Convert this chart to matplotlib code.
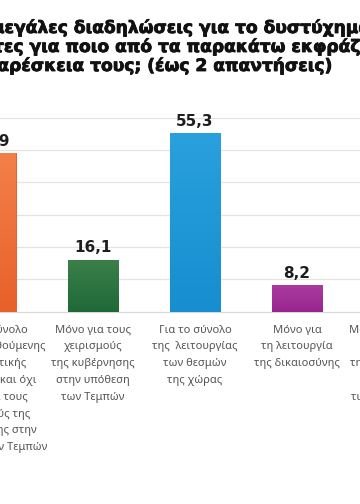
import matplotlib
matplotlib.use("Agg")
import matplotlib.pyplot as plt
import matplotlib.transforms as mtransforms
import matplotlib.patheffects as pe
from matplotlib.colors import to_rgb
import numpy as np

# data
categories = [
    "Για το σύνολο\nτης ακολουθούμενης\nκυβερνητικής\nπολιτικής και όχι\nμόνο για τους\nχειρισμούς της\nκυβέρνησης στην\nυπόθεση των Τεμπών",
    "Μόνο για τους\nχειρισμούς\nτης κυβέρνησης\nστην υπόθεση\nτων Τεμπών",
    "Για το σύνολο\nτης  λειτουργίας\nτων θεσμών\nτης χώρας",
    "Μόνο για\nτη λειτουργία\nτης δικαιοσύνης",
    "Μόνο για τη γενική\nκατάσταση\nτης οικονομίας και\nτην ακρίβεια\nτις συνθήκες ζωής\n- οικονομία -",
]
values = [48.9, 16.1, 55.3, 8.2, 21.0]
value_labels = ["48,9", "16,1", "55,3", "8,2", "21,0"]
top_colors = ["#F3804A", "#3C7F4A", "#2AA0DD", "#AA3AA0", "#9A9A9A"]
bottom_colors = ["#E8602A", "#1E6A37", "#168ECF", "#97258E", "#808080"]
grid_values = [0, 10, 20, 30, 40, 50, 60]

title_lines = [
    ("Με τις μεγάλες διαδηλώσεις για το δυστύχημα των Τεμπών", "Με τις μ"),
    ("θεωρείτε ότι οι πολίτες για ποιο από τα παρακάτω εκφράζουν", "θεωρείτε ότι οι πολίτ"),
    ("τη δυσαρέσκεια τους; (έως 2 απαντήσεις)", None),
]

W, H = 360, 504
fig = plt.figure(figsize=(W / 100, H / 100), dpi=100)
fig.patch.set_facecolor("white")

# the reference is a crop of a wider chart, so the axes runs past the figure edges
ax = fig.add_axes([-60 / W, 192.3 / H, 510 / W, 194.2 / H])
ax.axis("off")

for g in grid_values:
    ax.axhline(g, color="#E3E3E3" if g else "#D8D8D8", lw=0.9, zorder=0, clip_on=False)

x = list(range(len(values)))
bars = ax.bar(x, values, width=0.5, color=bottom_colors, zorder=2)

# soft vertical gradient inside each bar
for bar, ct, cb in zip(bars, top_colors, bottom_colors):
    t = np.linspace(0, 1, 64)[:, None]
    grad = (1 - t) * np.array(to_rgb(cb)) + t * np.array(to_rgb(ct))
    grad = grad[:, None, :]
    x0 = bar.get_x()
    im = ax.imshow(grad, extent=[x0, x0 + bar.get_width(), 0, bar.get_height()],
                   origin="lower", aspect="auto", zorder=2.1, interpolation="bilinear")
    im.set_clip_path(bar)

ax.set_xlim(-0.5, 4.5)
ax.set_ylim(0, 60)

for xi, v, lab in zip(x, values, value_labels):
    ax.annotate(lab, (xi, v), xytext=(0, 3), textcoords="offset points",
                ha="center", va="bottom", fontsize=11, fontweight="bold",
                color="#1E1E1E", family="DejaVu Sans", annotation_clip=False)

trans = mtransforms.blended_transform_factory(ax.transData, ax.transAxes)
for xi, cat in zip(x, categories):
    ax.text(xi, -13 / 194.2, cat, transform=trans, ha="center", va="top",
            fontsize=8, color="#555555", family="Noto Sans", linespacing=1.72,
            clip_on=False)

# title, bold, clipped on the left like the reference
renderer = fig.canvas.get_renderer()
title_kw = dict(fontsize=12.3, fontweight="bold", color="#111111", family="DejaVu Sans",
                path_effects=[pe.withStroke(linewidth=0.6, foreground="#111111")])
baselines = [33, 52, 71]
for (line, prefix), yb in zip(title_lines, baselines):
    if prefix is None:
        fig.text(334 / W, 1 - yb / H, line, ha="right", va="baseline", **title_kw)
    else:
        t = fig.text(0, 0, prefix, **title_kw)
        w = t.get_window_extent(renderer).width
        t.remove()
        fig.text((5 - w) / W, 1 - yb / H, line, ha="left", va="baseline", **title_kw)

fig.savefig("out.png", dpi=100)
